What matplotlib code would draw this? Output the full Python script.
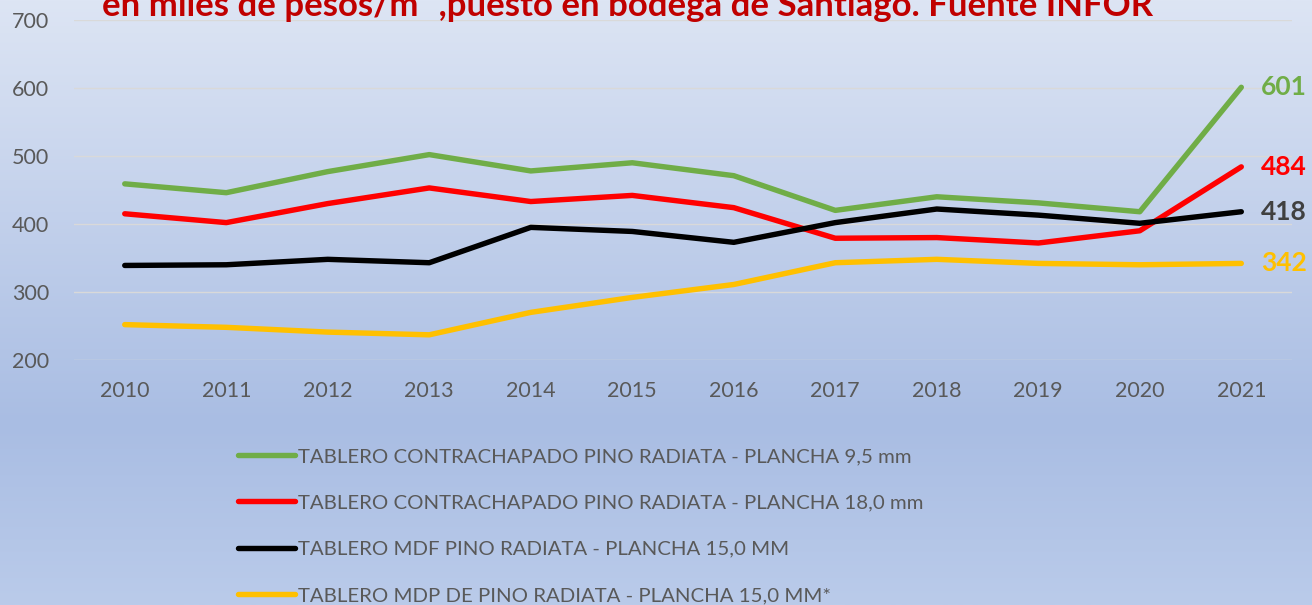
import numpy as np
import matplotlib.pyplot as plt
from matplotlib.colors import LinearSegmentedColormap

plt.rcParams['font.family'] = ['Lato', 'DejaVu Sans']

years = ['2010', '2011', '2012', '2013', '2014', '2015',
         '2016', '2017', '2018', '2019', '2020', '2021']

contrachapado_95 = [459, 446, 477, 502, 478, 490, 471, 420, 440, 431, 418, 601]
contrachapado_18 = [415, 402, 430, 453, 433, 442, 424, 379, 380, 372, 390, 484]
mdf_15 = [339, 340, 348, 343, 395, 389, 373, 402, 422, 413, 401, 418]
mdp_15 = [252, 248, 241, 237, 270, 292, 311, 343, 348, 342, 340, 342]

labels = ['TABLERO CONTRACHAPADO PINO RADIATA - PLANCHA 9,5 mm',
          'TABLERO CONTRACHAPADO PINO RADIATA - PLANCHA 18,0 mm',
          'TABLERO MDF PINO RADIATA - PLANCHA 15,0 MM',
          'TABLERO MDP DE PINO RADIATA - PLANCHA 15,0 MM*']
colors = ['#70AD47', '#FF0000', '#000000', '#FFC000']
label_colors = ['#70AD47', '#FF0000', '#404040', '#FFC000']

title = 'en miles de pesos/m³ ,puesto en bodega de Santiago. Fuente INFOR'


def plot_chart():
    fig = plt.figure(figsize=(13.12, 6.05), dpi=100)

    # background gradient
    bg = fig.add_axes([0, 0, 1, 1], zorder=0)
    cmap = LinearSegmentedColormap.from_list(
        'bg', [(0, '#DDE5F4'), (0.7, '#A9BDE3'), (1.0, '#BACBEA')])
    grad = np.linspace(0, 1, 256).reshape(-1, 1)
    bg.imshow(grad, aspect='auto', cmap=cmap, extent=[0, 1, 0, 1], origin='upper')
    bg.axis('off')

    ax = fig.add_axes([0.0564, 0.405, 0.9284, 0.562], zorder=1)
    ax.patch.set_alpha(0)

    series = [contrachapado_95, contrachapado_18, mdf_15, mdp_15]
    x = np.arange(len(years))
    for vals, c, lab in zip(series, colors, labels):
        ax.plot(x, vals, color=c, lw=3.9, label=lab, solid_capstyle='round')

    for vals, c in zip(series, label_colors):
        ax.annotate(str(vals[-1]), (x[-1], vals[-1]), xytext=(14, 0),
                    textcoords='offset points', va='center', ha='left',
                    color=c, fontsize=19, fontweight='bold')

    ax.set_xlim(-0.5, len(years) - 0.5)
    ax.set_ylim(200, 700)
    ax.set_yticks([200, 300, 400, 500, 600, 700])
    ax.set_xticks(x)
    ax.set_xticklabels(years)
    ax.grid(axis='y', color='#D9D9D9', lw=1)
    ax.set_axisbelow(True)
    for s in ax.spines.values():
        s.set_visible(False)
    ax.tick_params(length=0, labelsize=15.5, labelcolor='#595959', pad=15)
    ax.tick_params(axis='y', pad=18)

    fig.text(0.478, 1 - 16 / 605, title, ha='center', va='baseline',
             color='#C00000', fontsize=25, fontweight='bold')

    handles, labs = ax.get_legend_handles_labels()
    fig.legend(handles, labs, loc='upper left', bbox_to_anchor=(238 / 1312, 1 - 448 / 605),
               frameon=False, fontsize=14.7, labelcolor='#595959', handlelength=2.8,
               handletextpad=0.15, labelspacing=1.42, borderpad=0, borderaxespad=0)

    fig.savefig('out.png', dpi=100)


if __name__ == '__main__':
    plot_chart()
